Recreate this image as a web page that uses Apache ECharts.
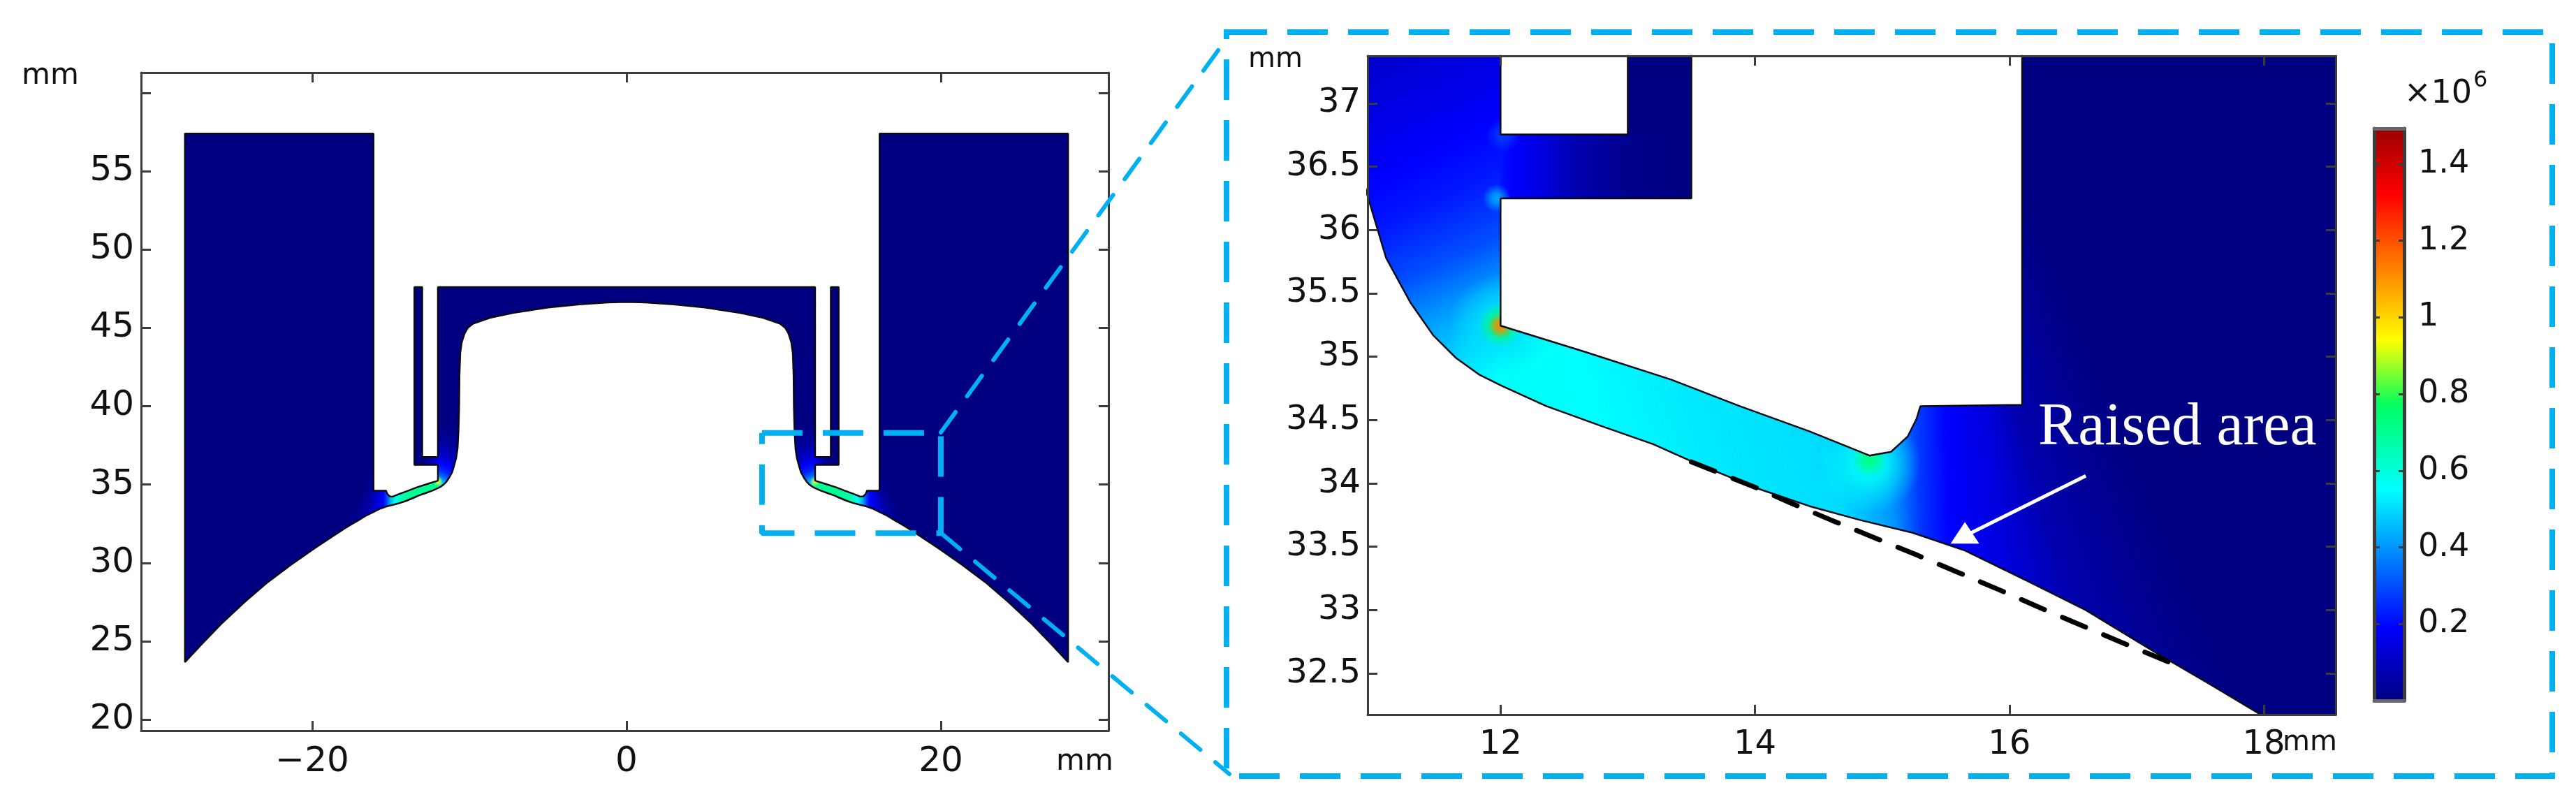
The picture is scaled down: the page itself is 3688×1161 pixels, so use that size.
<!DOCTYPE html>
<html>
<head>
<meta charset="utf-8">
<title>Stress field</title>
<script src="https://cdn.jsdelivr.net/npm/echarts@6/dist/echarts.min.js"></script>
<style>
html,body{margin:0;padding:0;background:#fff}
#main{width:3688px;height:1161px}
</style>
</head>
<body>
<div id="main"></div>
<script>
// axis ticks
var overviewXTicks = [-20, 0, 20];
var overviewYTicks = [20, 25, 30, 35, 40, 45, 50, 55, 60];
var overviewYLabels = [20, 25, 30, 35, 40, 45, 50, 55];
var detailXTicks = [12, 14, 16, 18];
var detailYTicks = [32.5, 33, 33.5, 34, 34.5, 35, 35.5, 36, 36.5, 37];
var barTicks = [0.2, 0.4, 0.6, 0.8, 1, 1.2, 1.4];
var barMax = 1.493;

// colour scale, values in 1e6
var scaleValues = [0, 0.19, 0.55, 0.77, 0.94, 1.32, 1.493];
var scaleColors = [[0, 0, 128], [0, 0, 255], [0, 255, 255], [0, 255, 96], [255, 255, 0], [255, 0, 0], [156, 0, 0]];

// right half of the solid outline in mm, the left half is its mirror
var outlineHalf = [
	[0, 47.6], [12, 47.6], [12, 36.755], [13, 36.755], [13, 47.6], [13.5, 47.6], [13.5, 36.25], [12, 36.25], [12, 35.245],
	[12.66, 35.04], [13.34, 34.82], [13.88, 34.61], [14.43, 34.41], [14.9, 34.22], [15.07, 34.25], [15.2, 34.37], [15.27, 34.51], [15.3, 34.61],
	[16.1, 34.62], [16.1, 57.4], [28.1, 57.4], [28.1, 23.66],
	[27, 24.85], [25.8, 26.1], [24.3, 27.5], [22.83, 28.77], [21.35, 29.88], [19.87, 30.92], [18.9, 31.56],
	[17.95, 32.19], [17.55, 32.43], [17.14, 32.67], [16.6, 33], [16.16, 33.22], [15.65, 33.47],
	[15.24, 33.61], [14.83, 33.71], [14.43, 33.82], [14.02, 33.96], [13.51, 34.17], [13.2, 34.31], [12.8, 34.45], [12.36, 34.61], [12.23, 34.67], [12.01, 34.77],
	[11.83, 34.86], [11.65, 34.99], [11.47, 35.17], [11.29, 35.43], [11.1, 35.78], [10.96, 36.25], [10.84, 36.7], [10.75, 37.3], [10.69, 38.5], [10.65, 40],
	[10.63, 42], [10.58, 43.4], [10.48, 44.1], [10.3, 44.65], [10.1, 45], [9.76, 45.27], [8.7, 45.64], [7.24, 45.95], [5, 46.3], [3, 46.5], [1.2, 46.62], [0, 46.66]
];

// field sections: wall side point, curve side point, stress in each panel
var sectionWall = [
	[12, 39], [12, 37.8], [12, 36.9], [12, 36.5], [12, 35.96], [12, 35.6], [12, 35.35], [12.05, 35.3], [12.3, 35.25], [12.8, 35.1],
	[13.4, 34.9], [14, 34.7], [14.5, 34.45], [15, 34.3], [15.3, 34.7], [15.5, 34.8], [15.8, 34.9], [15.95, 34.9], [16.1, 35.6], [16.09, 36.5]
];
var sectionCurve = [
	[10.4, 38.6], [10.4, 37.2], [10.4, 36.1], [10.6, 35.8], [11, 35.5], [11.2, 35.2], [11.6, 34.85], [12, 34.6], [12.5, 34.4], [13.1, 34.15],
	[13.75, 33.9], [14.3, 33.7], [14.75, 33.55], [15.15, 33.4], [15.3, 33.3], [15.55, 33.2], [16, 33], [16.6, 32.7], [17.3, 32.2], [18.2, 31.6]
];
var detailStress = [0.08, 0.11, 0.19, 0.22, 0.3, 0.4, 0.5, 0.56, 0.56, 0.54, 0.52, 0.51, 0.5, 0.4, 0.27, 0.19, 0.14, 0.07, 0.03, 0];
var overviewStress = [0, 0.04, 0.12, 0.19, 0.25, 0.35, 0.5, 0.68, 0.7, 0.7, 0.7, 0.68, 0.6, 0.42, 0.28, 0.19, 0.13, 0.07, 0.03, 0];

// the short arm under the hook
var hookTop = [[12, 36.755], [12.1, 36.755], [12.3, 36.755], [12.6, 36.755], [13, 36.755], [13.5, 36.755]];
var hookBottom = [[12, 36.25], [12.1, 36.25], [12.3, 36.25], [12.6, 36.25], [13, 36.25], [13.5, 36.25]];
var detailHookStress = [0.22, 0.19, 0.15, 0.07, 0.02, 0];
var overviewHookStress = [0.17, 0.15, 0.1, 0.04, 0.01, 0];

// soft spots: x, y, radius in mm, stress
var detailGlow = [
	[11.97, 36.25, 0.11, 0.42], [12.02, 36.75, 0.13, 0.27],
	[12, 35.25, 0.4, 0.5], [12, 35.25, 0.18, 0.75], [12, 35.245, 0.1, 1.12],
	[14.9, 34.16, 0.4, 0.56], [14.9, 34.19, 0.14, 0.72]
];
var overviewGlow = [[12, 35.2, 0.3, 0.95], [14.9, 34.2, 0.2, 0.7]];

// dashed original wall, arrow and zoom box
var originalWall = [[13.5, 34.17], [14, 33.97], [14.27, 33.85], [14.6, 33.71], [15.26, 33.44], [15.59, 33.3], [15.92, 33.16], [16.33, 32.98], [16.87, 32.75], [17.3, 32.57]];
var raisedArrow = [[16.6, 34.06], [15.68, 33.6]];
var raisedArrowHead = [[15.65, 33.61]];
var zoomBox = [[8.62, 38.3], [20, 38.3], [20, 31.9], [8.62, 31.9], [8.62, 38.3]];

var outlineFull = outlineHalf.concat(outlineHalf.map(function(p) {
	return [-p[0], p[1]];
}).reverse());

function stressRgb(v) {
	for (var i = 1; i < scaleValues.length; i++) {
		if (v <= scaleValues[i]) {
			var t = (v - scaleValues[i - 1]) / (scaleValues[i] - scaleValues[i - 1]);
			var a = scaleColors[i - 1], b = scaleColors[i];
			return [a[0] + (b[0] - a[0]) * t, a[1] + (b[1] - a[1]) * t, a[2] + (b[2] - a[2]) * t].map(Math.round);
		}
	}
	return scaleColors[scaleColors.length - 1];
}

function stressCss(v, alpha) {
	var c = stressRgb(v);
	return 'rgba(' + c[0] + ',' + c[1] + ',' + c[2] + ',' + alpha + ')';
}

function glowEl(api, g, sign) {
	var c = api.coord([sign * g[0], g[1]]);
	var r = api.size([g[2], 0])[0];
	return {
		type: 'circle',
		shape: {cx: c[0], cy: c[1], r: r},
		style: {
			fill: {type: 'radial', x: 0.5, y: 0.5, r: 0.5, colorStops: [
				{offset: 0, color: stressCss(g[3], 1)},
				{offset: 0.35, color: stressCss(g[3], 0.8)},
				{offset: 1, color: stressCss(g[3], 0)}
			]}
		}
	};
}

// each stretch between two sections is painted as thin slices so the colours meet at the section lines
var sliceCount = 16;

function stripEls(api, top, bottom, stress, sign) {
	var els = [];
	function px(p, q, t) {
		return api.coord([sign * (p[0] + (q[0] - p[0]) * t), p[1] + (q[1] - p[1]) * t]);
	}
	for (var i = 0; i < stress.length - 1; i++) {
		for (var k = 0; k < sliceCount; k++) {
			var t0 = k / sliceCount, t1 = (k + 1) / sliceCount;
			var color = stressCss(stress[i] + (stress[i + 1] - stress[i]) * (t0 + t1) / 2, 1);
			var points = [
				px(top[i], top[i + 1], t0),
				px(bottom[i], bottom[i + 1], t0),
				px(bottom[i], bottom[i + 1], t1),
				px(top[i], top[i + 1], t1)
			];
			els.push({type: 'polygon', shape: {points: points}, style: {fill: color, stroke: color, lineWidth: 1}});
		}
	}
	return els;
}

function fieldSeries(axisIndex, sides, stress, hookStress, glow) {
	return {
		type: 'custom',
		xAxisIndex: axisIndex,
		yAxisIndex: axisIndex,
		clip: true,
		silent: true,
		z: 2,
		data: [[0, 40]],
		renderItem: function(params, api) {
			var points = outlineFull.map(function(p) {
				return api.coord(p);
			});
			var children = [{type: 'polygon', shape: {points: points}, style: {fill: 'rgb(0,0,128)'}}];
			sides.forEach(function(sign) {
				children = children.concat(stripEls(api, sectionWall, sectionCurve, stress, sign));
				children = children.concat(stripEls(api, hookTop, hookBottom, hookStress, sign));
				glow.forEach(function(g) { children.push(glowEl(api, g, sign)); });
			});
			return {type: 'group', clipPath: {type: 'polygon', shape: {points: points}}, children: children};
		}
	};
}

function outlineSeries(axisIndex, width) {
	return {
		type: 'line',
		xAxisIndex: axisIndex,
		yAxisIndex: axisIndex,
		data: outlineFull.concat([outlineFull[0]]),
		showSymbol: false,
		silent: true,
		clip: true,
		z: 3,
		lineStyle: {color: '#0a0a14', width: width}
	};
}

var font = 'DejaVu Sans';
var axisColor = '#3c3c3c';

function boxAxis(opt, ticks, labels, position, size, margin) {
	var base = {
		type: 'value',
		gridIndex: opt.grid,
		min: opt.min,
		max: opt.max,
		position: position,
		z: 6,
		splitLine: {show: false},
		axisLine: {show: true, onZero: false, lineStyle: {color: axisColor, width: opt.lineWidth || 3}},
		axisTick: {show: true, inside: true, length: opt.tick || 14, customValues: ticks, lineStyle: {color: axisColor, width: 3}},
		axisLabel: {show: !!labels}
	};
	if (labels) {
		base.axisLabel = {
			show: true,
			customValues: labels,
			fontFamily: font,
			fontSize: size,
			color: '#111',
			margin: margin,
			hideOverlap: false,
			formatter: function(v) {
				return String(v).replace('-', '\u2212');
			}
		};
	}
	return base;
}

var chart = echarts.init(document.getElementById('main'));

var barStops = scaleValues.map(function(v, i) {
	var c = scaleColors[i];
	return {offset: 1 - v / barMax, color: 'rgb(' + c.join(',') + ')'};
}).reverse();

var ov = {grid: 0, min: -30.89, max: 30.67};
var ovY = {grid: 0, min: 19.29, max: 61.29};
var de = {grid: 1, min: 10.955, max: 18.565};
var deY = {grid: 1, min: 32.175, max: 37.375};
var cbY = {grid: 2, min: 0, max: barMax, lineWidth: 5, tick: 8};

var cyan = '#00b0f0';

var option = {
	animation: false,
	backgroundColor: '#fff',
	grid: [
		{left: 202, top: 104, width: 1385, height: 942},
		{left: 1958, top: 80, width: 1386, height: 943},
		{left: 3399, top: 184, width: 43, height: 819}
	],
	xAxis: [
		boxAxis(ov, overviewXTicks, overviewXTicks, 'bottom', 50, 20),
		boxAxis(ov, overviewXTicks, null, 'top'),
		boxAxis(de, detailXTicks, detailXTicks, 'bottom', 48, 20),
		boxAxis(de, detailXTicks, null, 'top'),
		{type: 'category', gridIndex: 2, data: ['stress'], position: 'bottom', z: 6,
			axisLine: {show: true, onZero: false, lineStyle: {color: '#666', width: 5}}, axisTick: {show: false}, axisLabel: {show: false}},
		{type: 'category', gridIndex: 2, data: ['stress'], position: 'top', z: 6,
			axisLine: {show: true, onZero: false, lineStyle: {color: '#666', width: 5}}, axisTick: {show: false}, axisLabel: {show: false}}
	],
	yAxis: [
		boxAxis(ovY, overviewYTicks, overviewYLabels, 'left', 50, 10),
		boxAxis(ovY, overviewYTicks, null, 'right'),
		boxAxis(deY, detailYTicks, detailYTicks, 'left', 48, 10),
		boxAxis(deY, detailYTicks, null, 'right'),
		boxAxis(cbY, barTicks, null, 'left'),
		boxAxis(cbY, barTicks, barTicks, 'right', 46, 20)
	],
	series: [
		fieldSeries(0, [1, -1], overviewStress, overviewHookStress, overviewGlow),
		outlineSeries(0, 2.5),
		fieldSeries(2, [1], detailStress, detailHookStress, detailGlow),
		outlineSeries(2, 2.5),
		{
			type: 'line', xAxisIndex: 2, yAxisIndex: 2, data: originalWall, showSymbol: false, silent: true, z: 4,
			lineStyle: {color: '#000', width: 7, type: [36, 28], cap: 'round'}
		},
		{
			type: 'line', xAxisIndex: 2, yAxisIndex: 2, data: raisedArrow, showSymbol: false, silent: true, z: 5,
			lineStyle: {color: '#fff', width: 5}
		},
		{
			type: 'scatter', xAxisIndex: 2, yAxisIndex: 2, data: raisedArrowHead, symbol: 'triangle', symbolSize: [41, 31], silent: true, z: 5,
			itemStyle: {color: '#fff', opacity: 1}
		},
		{
			type: 'bar', xAxisIndex: 4, yAxisIndex: 4, data: [barMax], barWidth: '100%', silent: true,
			itemStyle: {color: {type: 'linear', x: 0, y: 0, x2: 0, y2: 1, colorStops: barStops}}
		},
		{
			type: 'line', xAxisIndex: 0, yAxisIndex: 0, data: zoomBox, showSymbol: false, silent: true, clip: false, z: 8,
			lineStyle: {color: cyan, width: 8, type: [58, 29]}
		}
	],
	graphic: [
		{type: 'rect', shape: {x: 1756, y: 46, width: 1898, height: 1065}, z: 9,
			style: {fill: 'none', stroke: cyan, lineWidth: 8, lineDash: [58, 29]}},
		{type: 'line', shape: {x1: 1347, y1: 619, x2: 1760, y2: 50}, z: 9,
			style: {stroke: cyan, lineWidth: 6, lineDash: [36, 28], lineCap: 'round'}},
		{type: 'line', shape: {x1: 1347, y1: 763, x2: 1760, y2: 1108}, z: 9,
			style: {stroke: cyan, lineWidth: 6, lineDash: [36, 28], lineCap: 'round'}},
		{type: 'text', x: 31, y: 88, z: 9, style: {text: 'mm', font: '42px "DejaVu Sans"', fill: '#111'}},
		{type: 'text', x: 1512, y: 1070, z: 9, style: {text: 'mm', font: '42px "DejaVu Sans"', fill: '#111'}},
		{type: 'text', x: 1787, y: 66, z: 9, style: {text: 'mm', font: '40px "DejaVu Sans"', fill: '#111'}},
		{type: 'text', x: 3268, y: 1044, z: 9, style: {text: 'mm', font: '40px "DejaVu Sans"', fill: '#111'}},
		{type: 'text', x: 3442, y: 112, z: 9, style: {text: '\u00d710', font: '46px "DejaVu Sans"', fill: '#111'}},
		{type: 'text', x: 3541, y: 100, z: 9, style: {text: '6', font: '32px "DejaVu Sans"', fill: '#111'}},
		{type: 'text', x: 2918, y: 570, z: 9, style: {text: 'Raised area', font: '86px "Liberation Serif"', fill: '#fff'}}
	]
};

chart.setOption(option);
</script>
</body>
</html>
